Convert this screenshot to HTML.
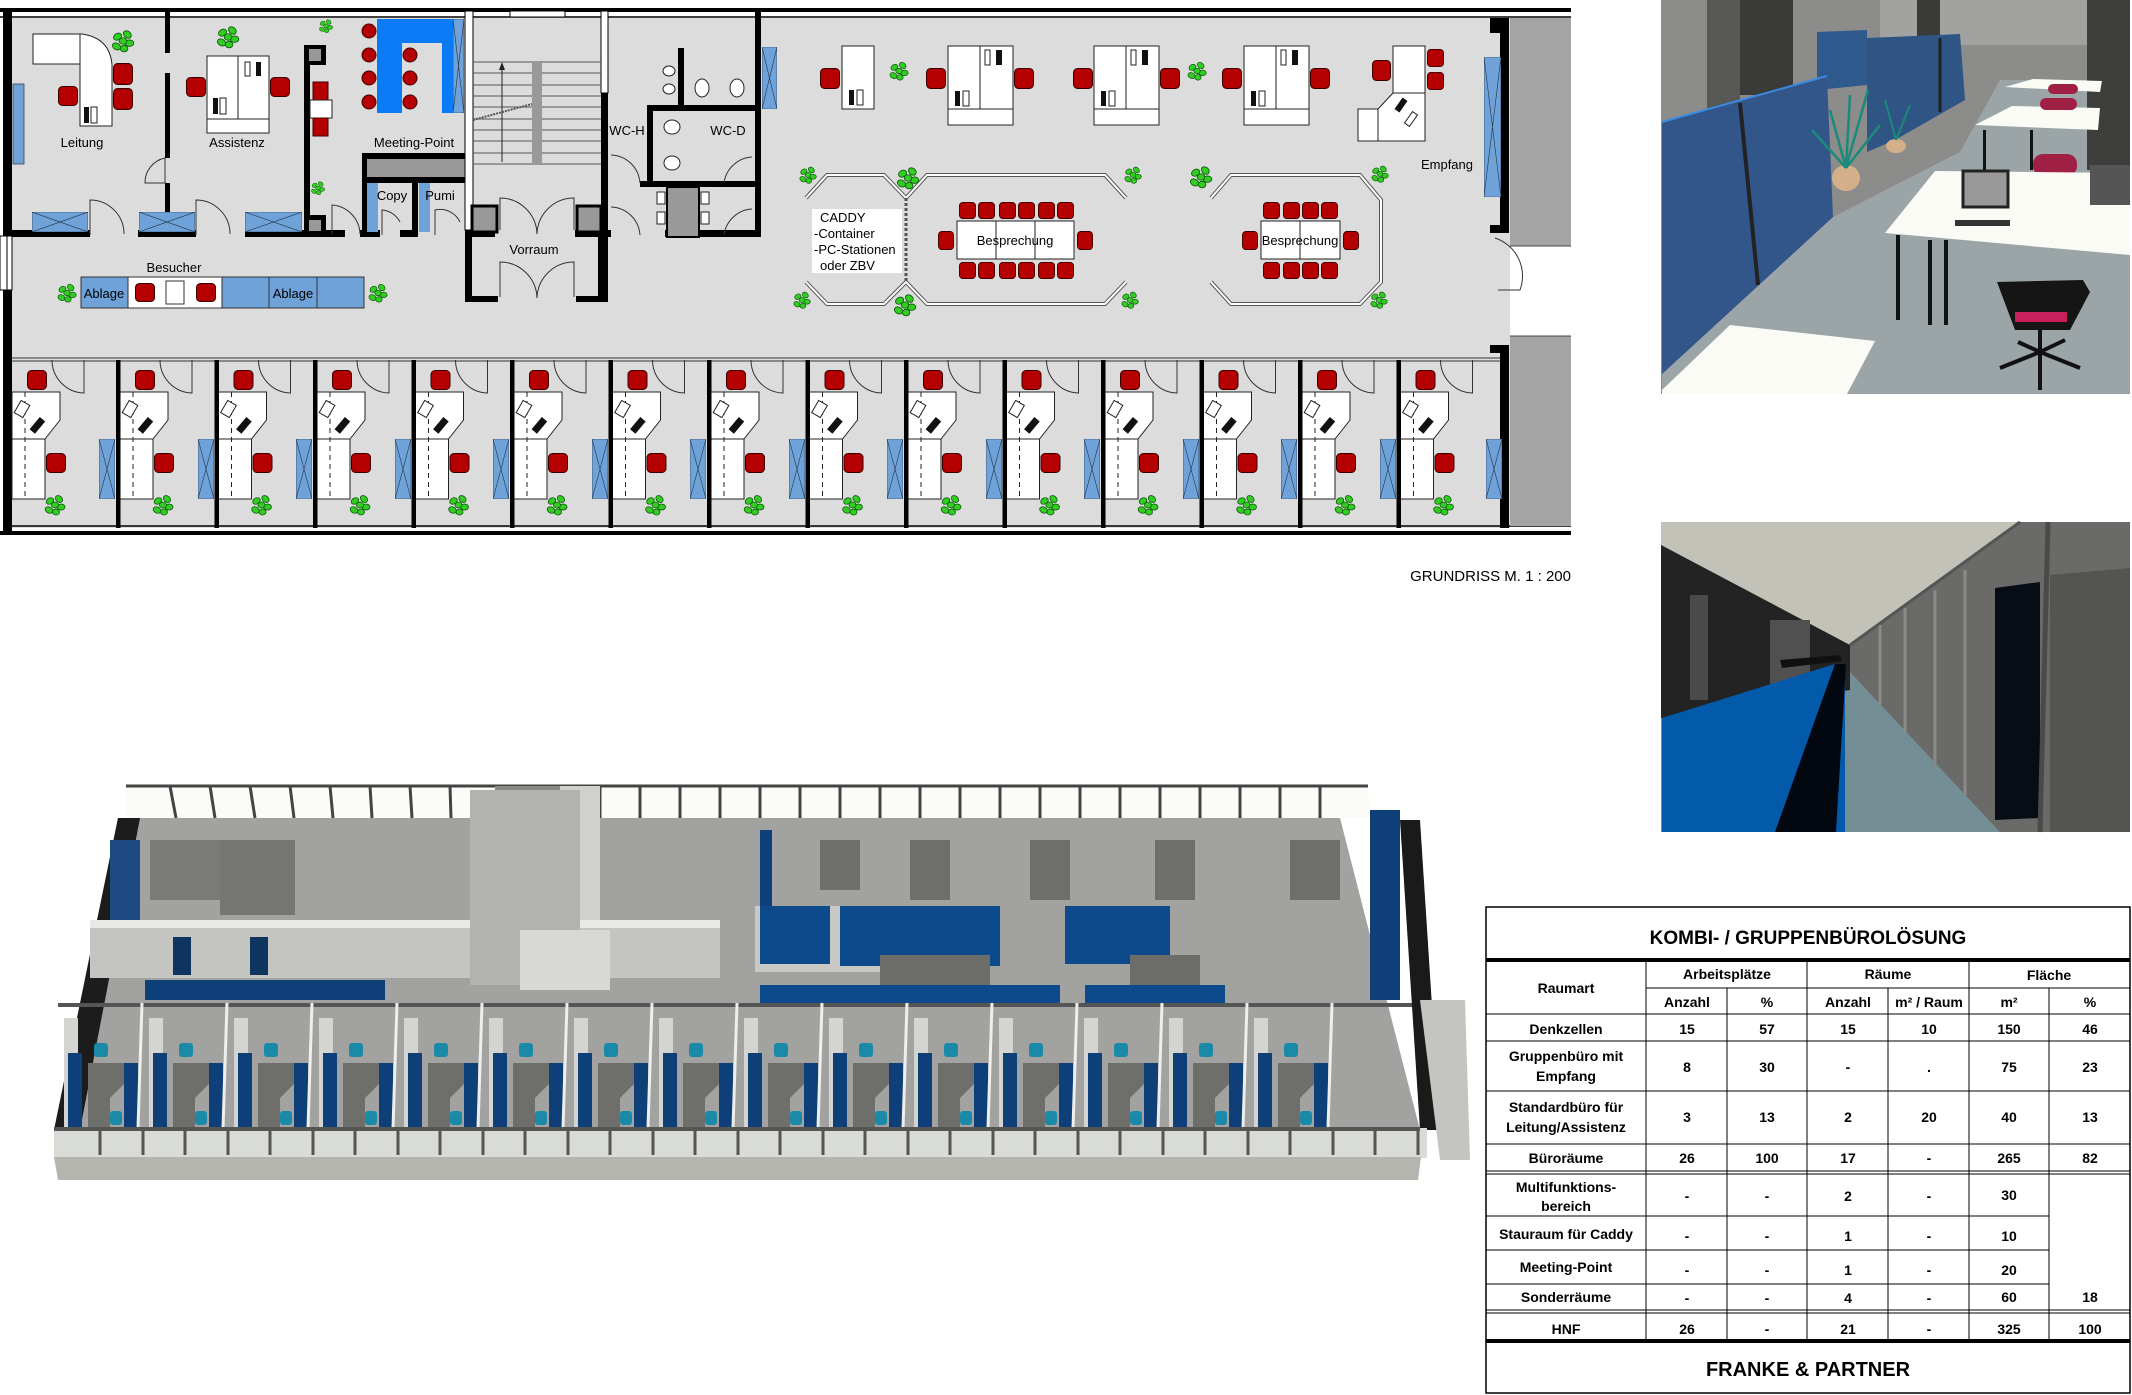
<!DOCTYPE html>
<html><head><meta charset="utf-8">
<style>
html,body{margin:0;padding:0;background:#fff;}
svg{display:block;font-family:"Liberation Sans",Arial,sans-serif;}
</style></head>
<body>
<svg width="2132" height="1395" viewBox="0 0 2132 1395" xmlns="http://www.w3.org/2000/svg">
<defs>
  <symbol id="cab" viewBox="0 0 10 10" preserveAspectRatio="none">
    <rect x="0" y="0" width="10" height="10" fill="#6fa2d8" stroke="#234" stroke-width="0.6" vector-effect="non-scaling-stroke"/>
    <path d="M0 0L10 10M10 0L0 10" stroke="#234" stroke-width="0.6" vector-effect="non-scaling-stroke"/>
  </symbol>
  <symbol id="pl" viewBox="-12 -12 24 24" overflow="visible">
    <g fill="#33cc22" stroke="#0a5a0a" stroke-width="0.8">
      <ellipse cx="-5" cy="-4" rx="4" ry="3" transform="rotate(-30 -5 -4)"/>
      <ellipse cx="4" cy="-6" rx="4" ry="3" transform="rotate(40 4 -6)"/>
      <ellipse cx="6" cy="2" rx="4" ry="3"/>
      <ellipse cx="-6" cy="5" rx="4" ry="3" transform="rotate(30 -6 5)"/>
      <ellipse cx="1" cy="7" rx="3.5" ry="3"/>
      <ellipse cx="0" cy="0" rx="3.5" ry="3"/>
    </g>
  </symbol>
  <symbol id="ch" viewBox="0 0 20 20" preserveAspectRatio="none">
    <rect x="0.5" y="0.5" width="19" height="19" rx="4" fill="#b40000" stroke="#3a0000" stroke-width="1"/>
  </symbol>
  <symbol id="cell" viewBox="0 0 100 200" width="100" height="200" overflow="visible">
    <path d="M40 20 A33 33 0 0 0 72 53 L72 20" fill="none" stroke="#333" stroke-width="1"/>
    <use href="#ch" x="15" y="30" width="20" height="20"/>
    <polygon points="0,52 48,52 48,80 33,99 33,159 0,159" fill="#fff" stroke="#222" stroke-width="1"/>
    <line x1="0" y1="99" x2="33" y2="99" stroke="#222" stroke-width="1"/>
    <line x1="13" y1="52" x2="13" y2="159" stroke="#222" stroke-width="1" stroke-dasharray="5,4"/>
    <rect x="5" y="62" width="10" height="14" fill="#fff" stroke="#222" transform="rotate(30 10 69)"/>
    <rect x="22" y="77" width="7" height="16" fill="#111" transform="rotate(40 25 85)"/>
    <use href="#ch" x="34" y="113" width="20" height="20"/>
    <use href="#pl" x="31" y="153" width="24" height="24"/>
  </symbol>
  <symbol id="c3" viewBox="0 0 90 130" width="90" height="130" overflow="visible">
    <polygon points="6,15 20,15 20,125 6,125" fill="#d4d4d0"/>
    <rect x="10" y="50" width="14" height="75" fill="#0e3f78"/>
    <polygon points="30,60 70,60 72,75 52,95 52,125 30,125" fill="#6e6e6a"/>
    <rect x="36" y="40" width="14" height="14" rx="3" fill="#1b8aa8"/>
    <rect x="52" y="108" width="12" height="14" rx="3" fill="#1b8aa8"/>
    <rect x="66" y="60" width="14" height="65" fill="#0e3f78"/>
    <line x1="84" y1="0" x2="80" y2="125" stroke="#eeeeea" stroke-width="3"/>
  </symbol>
</defs>

<!-- ================= FLOOR PLAN ================= -->
<rect x="12" y="18" width="1498" height="510" fill="#dcdcdc"/>
<rect x="0" y="8" width="1571" height="4" fill="#000"/>
<line x1="0" y1="17" x2="1571" y2="17" stroke="#000" stroke-width="1.5"/>
<line x1="12" y1="526" x2="1571" y2="526" stroke="#000" stroke-width="1.5"/>
<rect x="0" y="531" width="1571" height="4" fill="#000"/>
<rect x="3" y="8" width="9" height="228" fill="#000"/>
<rect x="3" y="290" width="9" height="245" fill="#000"/>
<rect x="0" y="236" width="12" height="54" fill="#fff" stroke="#000" stroke-width="1"/>
<line x1="7" y1="236" x2="7" y2="290" stroke="#000"/>
<rect x="1510" y="18" width="61" height="228" fill="#a4a4a4"/>
<rect x="1510" y="336" width="61" height="190" fill="#a4a4a4"/>
<line x1="1510" y1="246" x2="1571" y2="246" stroke="#444" stroke-width="1"/>
<line x1="1510" y1="336" x2="1571" y2="336" stroke="#444" stroke-width="1"/>
<rect x="1500" y="18" width="9" height="215" fill="#000"/>
<rect x="1500" y="345" width="9" height="183" fill="#000"/>
<rect x="1490" y="18" width="12" height="15" fill="#000"/>
<rect x="1490" y="225" width="19" height="8" fill="#000"/>
<rect x="1490" y="345" width="19" height="8" fill="#000"/>
<path d="M1495 238 A40 40 0 0 1 1520 290 L1498 290" fill="none" stroke="#333"/>
<use href="#cab" x="1484" y="57" width="17" height="140"/>
<text x="1447" y="169" font-size="13" text-anchor="middle">Empfang</text>

<rect x="12" y="230" width="78" height="7" fill="#000"/>
<rect x="138" y="230" width="58" height="7" fill="#000"/>
<rect x="245" y="230" width="100" height="7" fill="#000"/>
<rect x="360" y="230" width="20" height="7" fill="#000"/>
<rect x="400" y="230" width="18" height="7" fill="#000"/>
<rect x="465" y="230" width="30" height="7" fill="#000"/>
<rect x="575" y="230" width="36" height="7" fill="#000"/>
<rect x="665" y="230" width="95" height="7" fill="#000"/>
<path d="M90 235 L90 200 A34 34 0 0 1 124 234" fill="none" stroke="#333"/>
<path d="M196 235 L196 200 A34 34 0 0 1 230 234" fill="none" stroke="#333"/>
<path d="M332 235 L332 205 A30 30 0 0 1 360 234" fill="none" stroke="#333"/>
<path d="M382 235 L382 210 A22 22 0 0 1 400 222" fill="none" stroke="#333"/>
<path d="M435 235 L435 210 A22 22 0 0 1 460 222" fill="none" stroke="#333"/>
<rect x="165" y="11" width="5" height="42" fill="#000"/>
<rect x="165" y="73" width="5" height="85" fill="#000"/>
<path d="M165 158 L165 183 L145 183 A25 25 0 0 1 165 158" fill="none" stroke="#333"/>
<rect x="165" y="183" width="5" height="50" fill="#000"/>
<rect x="13" y="84" width="11" height="80" fill="#6fa2d8" stroke="#345" stroke-width="0.8"/>
<path d="M33 34 L82 34 Q110 38 112 65 L112 126 L80 126 L80 64 L33 64 Z" fill="#fff" stroke="#222"/>
<line x1="80" y1="34" x2="80" y2="64" stroke="#222"/>
<rect x="84" y="107" width="5" height="16" fill="#111"/><rect x="91" y="107" width="6" height="16" fill="#fff" stroke="#222"/>
<use href="#ch" x="113" y="63" width="20" height="22"/>
<use href="#ch" x="113" y="88" width="20" height="22"/>
<use href="#ch" x="58" y="86" width="20" height="20"/>
<use href="#pl" x="110" y="28" width="26" height="26"/>
<text x="82" y="147" font-size="13" text-anchor="middle">Leitung</text>
<use href="#cab" x="32" y="212" width="56" height="20"/>
<rect x="207" y="56" width="62" height="77" fill="#fff" stroke="#222"/>
<line x1="207" y1="119" x2="269" y2="119" stroke="#222"/>
<line x1="238" y1="56" x2="238" y2="119" stroke="#222"/>
<rect x="245" y="62" width="5" height="14" fill="#fff" stroke="#222"/><rect x="256" y="62" width="5" height="14" fill="#111"/>
<rect x="213" y="98" width="5" height="16" fill="#111"/><rect x="220" y="98" width="6" height="16" fill="#fff" stroke="#222"/>
<use href="#ch" x="186" y="77" width="20" height="20"/>
<use href="#ch" x="270" y="77" width="20" height="20"/>
<use href="#pl" x="215" y="24" width="26" height="26"/>
<text x="237" y="147" font-size="13" text-anchor="middle">Assistenz</text>
<use href="#cab" x="139" y="212" width="56" height="20"/>
<use href="#cab" x="245" y="212" width="57" height="20"/>
<rect x="304" y="45" width="6" height="190" fill="#000"/>
<rect x="304" y="45" width="22" height="20" fill="#000"/><rect x="309" y="49" width="12" height="12" fill="#999"/>
<rect x="304" y="215" width="22" height="20" fill="#000"/><rect x="309" y="220" width="12" height="11" fill="#999"/>
<rect x="313" y="82" width="15" height="18" fill="#b40000" stroke="#400"/>
<rect x="310" y="100" width="22" height="18" fill="#fff" stroke="#222"/>
<rect x="313" y="118" width="15" height="18" fill="#b40000" stroke="#400"/>
<use href="#pl" x="318" y="18" width="16" height="16"/>
<use href="#pl" x="310" y="180" width="16" height="16"/>
<path d="M377 19 L453 19 L453 113 L442 113 L442 43 L402 43 L402 113 L377 113 Z" fill="#0a7af5"/>
<use href="#cab" x="453" y="19" width="11" height="94"/>
<circle cx="369" cy="31" r="7" fill="#b40000" stroke="#400"/>
<circle cx="369" cy="55" r="7" fill="#b40000" stroke="#400"/>
<circle cx="369" cy="78" r="7" fill="#b40000" stroke="#400"/>
<circle cx="369" cy="102" r="7" fill="#b40000" stroke="#400"/>
<circle cx="410" cy="55" r="7" fill="#b40000" stroke="#400"/>
<circle cx="410" cy="78" r="7" fill="#b40000" stroke="#400"/>
<circle cx="410" cy="102" r="7" fill="#b40000" stroke="#400"/>
<text x="414" y="147" font-size="13" text-anchor="middle">Meeting-Point</text>
<rect x="362" y="153" width="103" height="6" fill="#000"/>
<rect x="362" y="153" width="5" height="82" fill="#000"/>
<rect x="367" y="159" width="98" height="18" fill="#999"/>
<rect x="362" y="177" width="103" height="6" fill="#000"/>
<rect x="412" y="177" width="6" height="58" fill="#000"/>
<rect x="367" y="183" width="11" height="49" fill="#6fa2d8"/>
<rect x="419" y="183" width="11" height="49" fill="#6fa2d8"/>
<text x="392" y="200" font-size="13" text-anchor="middle">Copy</text>
<text x="440" y="200" font-size="13" text-anchor="middle">Pumi</text>
<rect x="465" y="11" width="8" height="219" fill="#fff" stroke="#000" stroke-width="1"/>
<rect x="601" y="11" width="7" height="82" fill="#fff" stroke="#000" stroke-width="1"/>
<rect x="601" y="93" width="7" height="144" fill="#000"/>
<rect x="510" y="11" width="55" height="6" fill="#fff" stroke="#000"/>
<g stroke="#555" stroke-width="1">
<line x1="473" y1="62" x2="601" y2="62"/><line x1="473" y1="73" x2="601" y2="73"/><line x1="473" y1="85" x2="601" y2="85"/>
<line x1="473" y1="96" x2="601" y2="96"/><line x1="473" y1="107" x2="601" y2="107"/><line x1="473" y1="119" x2="601" y2="119"/>
<line x1="473" y1="130" x2="601" y2="130"/><line x1="473" y1="141" x2="601" y2="141"/><line x1="473" y1="153" x2="601" y2="153"/><line x1="473" y1="164" x2="601" y2="164"/>
</g>
<rect x="532" y="62" width="10" height="102" fill="#999"/>
<line x1="502" y1="162" x2="502" y2="66" stroke="#222"/><polygon points="502,62 499,70 505,70" fill="#222"/>
<line x1="473" y1="120" x2="532" y2="104" stroke="#555" stroke-width="2" stroke-dasharray="2,1"/>
<rect x="465" y="230" width="7" height="72" fill="#000"/>
<rect x="598" y="230" width="10" height="72" fill="#000"/>
<rect x="465" y="296" width="33" height="6" fill="#000"/>
<rect x="576" y="296" width="32" height="6" fill="#000"/>
<rect x="472" y="206" width="25" height="26" fill="#999" stroke="#000" stroke-width="3"/>
<rect x="577" y="206" width="24" height="26" fill="#999" stroke="#000" stroke-width="3"/>
<path d="M500 230 L500 198 A37 37 0 0 1 537 234 M574 230 L574 198 A37 37 0 0 0 537 234" fill="none" stroke="#333"/>
<path d="M500 297 L500 262 A37 37 0 0 1 537 298 M574 297 L574 262 A37 37 0 0 0 537 298" fill="none" stroke="#333"/>
<text x="534" y="254" font-size="13" text-anchor="middle">Vorraum</text>
<rect x="755" y="11" width="6" height="226" fill="#000"/>
<rect x="647" y="105" width="6" height="80" fill="#000"/>
<rect x="647" y="105" width="108" height="6" fill="#000"/>
<rect x="678" y="48" width="6" height="60" fill="#000"/>
<rect x="640" y="181" width="120" height="6" fill="#000"/>
<rect x="667" y="187" width="32" height="50" fill="#999" stroke="#000" stroke-width="2"/>
<ellipse cx="669" cy="71" rx="6" ry="5" fill="#fff" stroke="#222"/><ellipse cx="669" cy="89" rx="6" ry="5" fill="#fff" stroke="#222"/>
<ellipse cx="702" cy="88" rx="7" ry="9" fill="#fff" stroke="#222"/><ellipse cx="737" cy="88" rx="7" ry="9" fill="#fff" stroke="#222"/>
<ellipse cx="672" cy="127" rx="8" ry="7" fill="#fff" stroke="#222"/><ellipse cx="672" cy="163" rx="8" ry="7" fill="#fff" stroke="#222"/>
<rect x="657" y="192" width="8" height="12" fill="#fff" stroke="#222"/><rect x="657" y="212" width="8" height="12" fill="#fff" stroke="#222"/>
<rect x="701" y="192" width="8" height="12" fill="#fff" stroke="#222"/><rect x="701" y="212" width="8" height="12" fill="#fff" stroke="#222"/>
<text x="627" y="135" font-size="13" text-anchor="middle">WC-H</text>
<text x="728" y="135" font-size="13" text-anchor="middle">WC-D</text>
<path d="M611 155 A30 30 0 0 1 640 183 M611 207 A30 30 0 0 1 640 235 M752 157 A30 30 0 0 0 724 183 M752 209 A30 30 0 0 0 724 235" fill="none" stroke="#333"/>
<use href="#cab" x="762" y="47" width="15" height="62"/>

<rect x="842" y="46" width="32" height="63" fill="#fff" stroke="#222"/>
<rect x="849" y="90" width="5" height="15" fill="#111"/><rect x="857" y="90" width="6" height="15" fill="#fff" stroke="#222"/>
<use href="#ch" x="820" y="68" width="20" height="21"/>
<use href="#pl" x="888" y="60" width="22" height="22"/>
<g id="dk">
<rect x="948" y="46" width="65" height="79" fill="#fff" stroke="#222"/>
<line x1="980" y1="46" x2="980" y2="109" stroke="#222"/><line x1="948" y1="109" x2="1013" y2="109" stroke="#222"/>
<rect x="985" y="50" width="5" height="15" fill="#fff" stroke="#222"/><rect x="996" y="50" width="6" height="15" fill="#111"/>
<rect x="955" y="91" width="5" height="15" fill="#111"/><rect x="963" y="91" width="6" height="15" fill="#fff" stroke="#222"/>
</g>
<use href="#ch" x="926" y="68" width="20" height="21"/><use href="#ch" x="1014" y="68" width="20" height="21"/>
<use href="#dk" x="146"/>
<use href="#ch" x="1073" y="68" width="20" height="21"/><use href="#ch" x="1160" y="68" width="20" height="21"/>
<use href="#pl" x="1186" y="60" width="22" height="22"/>
<use href="#dk" x="296"/>
<use href="#ch" x="1222" y="68" width="20" height="21"/><use href="#ch" x="1310" y="68" width="20" height="21"/>
<path d="M1393 46 L1425 46 L1425 141 L1358 141 L1358 109 L1378 109 L1393 93 Z" fill="#fff" stroke="#222"/>
<line x1="1393" y1="93" x2="1425" y2="93" stroke="#222"/><line x1="1378" y1="109" x2="1378" y2="141" stroke="#222"/>
<rect x="1398" y="98" width="6" height="14" fill="#111" transform="rotate(35 1401 105)"/>
<rect x="1408" y="112" width="6" height="14" fill="#fff" stroke="#222" transform="rotate(35 1411 119)"/>
<use href="#ch" x="1372" y="60" width="19" height="21"/>
<use href="#ch" x="1427" y="49" width="17" height="18"/><use href="#ch" x="1427" y="72" width="17" height="18"/>

<g fill="none" stroke="#555" stroke-width="4"><path d="M806 198 L827 175 L884 175 L906 198 L927 175 L1105 175 L1126 198"/>
<path d="M806 282 L827 304 L884 304 L906 282 L927 304 L1105 304 L1126 282"/>
<path d="M1211 198 L1231 175 L1360 175 L1381 200 L1381 282 L1360 304 L1231 304 L1211 282"/></g>
<g fill="none" stroke="#fff" stroke-width="2"><path d="M806 198 L827 175 L884 175 L906 198 L927 175 L1105 175 L1126 198"/>
<path d="M806 282 L827 304 L884 304 L906 282 L927 304 L1105 304 L1126 282"/>
<path d="M1211 198 L1231 175 L1360 175 L1381 200 L1381 282 L1360 304 L1231 304 L1211 282"/></g>
<line x1="906" y1="198" x2="906" y2="282" stroke="#555" stroke-width="3" stroke-dasharray="3,2"/>
<rect x="812" y="209" width="90" height="64" fill="#fff"/>
<text font-size="13"><tspan x="820" y="222">CADDY</tspan><tspan x="814" y="238">-Container</tspan><tspan x="814" y="254">-PC-Stationen</tspan><tspan x="820" y="270">oder ZBV</tspan></text>
<rect x="957" y="221" width="117" height="38" fill="#fff" stroke="#222"/>
<line x1="996" y1="221" x2="996" y2="259" stroke="#222"/><line x1="1035" y1="221" x2="1035" y2="259" stroke="#222"/>
<text x="1015" y="245" font-size="13" text-anchor="middle">Besprechung</text>
<g>
<use href="#ch" x="959" y="202" width="17" height="17"/><use href="#ch" x="978" y="202" width="17" height="17"/><use href="#ch" x="999" y="202" width="17" height="17"/><use href="#ch" x="1018" y="202" width="17" height="17"/><use href="#ch" x="1038" y="202" width="17" height="17"/><use href="#ch" x="1057" y="202" width="17" height="17"/>
<use href="#ch" x="959" y="262" width="17" height="17"/><use href="#ch" x="978" y="262" width="17" height="17"/><use href="#ch" x="999" y="262" width="17" height="17"/><use href="#ch" x="1018" y="262" width="17" height="17"/><use href="#ch" x="1038" y="262" width="17" height="17"/><use href="#ch" x="1057" y="262" width="17" height="17"/>
<use href="#ch" x="938" y="231" width="16" height="19"/><use href="#ch" x="1077" y="231" width="16" height="19"/>
</g>
<rect x="1261" y="221" width="79" height="38" fill="#fff" stroke="#222"/>
<line x1="1300" y1="221" x2="1300" y2="259" stroke="#222"/>
<text x="1300" y="245" font-size="13" text-anchor="middle">Besprechung</text>
<use href="#ch" x="1263" y="202" width="17" height="17"/><use href="#ch" x="1283" y="202" width="17" height="17"/><use href="#ch" x="1302" y="202" width="17" height="17"/><use href="#ch" x="1321" y="202" width="17" height="17"/>
<use href="#ch" x="1263" y="262" width="17" height="17"/><use href="#ch" x="1283" y="262" width="17" height="17"/><use href="#ch" x="1302" y="262" width="17" height="17"/><use href="#ch" x="1321" y="262" width="17" height="17"/>
<use href="#ch" x="1242" y="231" width="16" height="19"/><use href="#ch" x="1343" y="231" width="16" height="19"/>
<use href="#pl" x="798" y="165" width="20" height="20"/><use href="#pl" x="895" y="165" width="26" height="26"/><use href="#pl" x="1123" y="165" width="20" height="20"/>
<use href="#pl" x="1188" y="164" width="26" height="26"/><use href="#pl" x="1370" y="164" width="20" height="20"/>
<use href="#pl" x="792" y="290" width="20" height="20"/><use href="#pl" x="892" y="292" width="26" height="26"/><use href="#pl" x="1120" y="290" width="20" height="20"/><use href="#pl" x="1369" y="290" width="20" height="20"/>

<text x="174" y="272" font-size="13" text-anchor="middle">Besucher</text>
<rect x="81" y="277" width="283" height="31" fill="#fff" stroke="#333"/>
<rect x="81" y="277" width="47" height="31" fill="#6fa2d8" stroke="#333"/>
<rect x="222" y="277" width="142" height="31" fill="#6fa2d8" stroke="#333"/>
<line x1="269" y1="277" x2="269" y2="308" stroke="#333"/><line x1="317" y1="277" x2="317" y2="308" stroke="#333"/>
<use href="#ch" x="135" y="283" width="20" height="19"/><use href="#ch" x="196" y="283" width="20" height="19"/>
<rect x="166" y="281" width="18" height="23" fill="#fff" stroke="#333"/>
<text x="104" y="298" font-size="13" text-anchor="middle">Ablage</text>
<text x="293" y="298" font-size="13" text-anchor="middle">Ablage</text>
<use href="#pl" x="56" y="282" width="22" height="22"/><use href="#pl" x="367" y="282" width="22" height="22"/>

<line x1="12" y1="358" x2="1500" y2="358" stroke="#333" stroke-width="1"/>
<line x1="12" y1="361" x2="1500" y2="361" stroke="#333" stroke-width="1"/>
<use href="#cell" x="12" y="340"/>
<use href="#cell" x="120" y="340"/><use href="#cell" x="218.5" y="340"/><use href="#cell" x="317" y="340"/><use href="#cell" x="415.5" y="340"/>
<use href="#cell" x="514" y="340"/><use href="#cell" x="612.5" y="340"/><use href="#cell" x="711" y="340"/><use href="#cell" x="809.5" y="340"/>
<use href="#cell" x="908" y="340"/><use href="#cell" x="1006.5" y="340"/><use href="#cell" x="1105" y="340"/><use href="#cell" x="1203.5" y="340"/>
<use href="#cell" x="1302" y="340"/><use href="#cell" x="1400.5" y="340"/>
<g fill="#000">
<rect x="116" y="360" width="4.5" height="168"/><rect x="214.5" y="360" width="4.5" height="168"/><rect x="313" y="360" width="4.5" height="168"/><rect x="411.5" y="360" width="4.5" height="168"/>
<rect x="510" y="360" width="4.5" height="168"/><rect x="608.5" y="360" width="4.5" height="168"/><rect x="707" y="360" width="4.5" height="168"/><rect x="805.5" y="360" width="4.5" height="168"/>
<rect x="904" y="360" width="4.5" height="168"/><rect x="1002.5" y="360" width="4.5" height="168"/><rect x="1101" y="360" width="4.5" height="168"/><rect x="1199.5" y="360" width="4.5" height="168"/>
<rect x="1298" y="360" width="4.5" height="168"/><rect x="1396.5" y="360" width="4.5" height="168"/>
</g>
<g>
<use href="#cab" x="99" y="439" width="16" height="60"/><use href="#cab" x="198" y="439" width="16" height="60"/><use href="#cab" x="296" y="439" width="16" height="60"/><use href="#cab" x="395" y="439" width="16" height="60"/>
<use href="#cab" x="493" y="439" width="16" height="60"/><use href="#cab" x="592" y="439" width="16" height="60"/><use href="#cab" x="690" y="439" width="16" height="60"/><use href="#cab" x="789" y="439" width="16" height="60"/>
<use href="#cab" x="887" y="439" width="16" height="60"/><use href="#cab" x="986" y="439" width="16" height="60"/><use href="#cab" x="1084" y="439" width="16" height="60"/><use href="#cab" x="1183" y="439" width="16" height="60"/>
<use href="#cab" x="1281" y="439" width="16" height="60"/><use href="#cab" x="1380" y="439" width="16" height="60"/><use href="#cab" x="1486" y="439" width="16" height="60"/>
</g>
<text x="1571" y="581" font-size="15" text-anchor="end">GRUNDRISS M. 1 : 200</text>

<!-- ================= PHOTO 1 ================= -->
<rect x="1661" y="0" width="469" height="394" fill="#8c8c8a"/>
<rect x="1880" y="0" width="210" height="45" fill="#a2a2a0"/>
<rect x="1707" y="0" width="33" height="110" fill="#585856"/>
<rect x="1740" y="0" width="53" height="95" fill="#3a3a38"/>
<rect x="1917" y="0" width="23" height="60" fill="#3a3a38"/>
<rect x="2087" y="0" width="43" height="170" fill="#3e3e3c"/>
<polygon points="1662,374 1833,217 1960,152 2000,80 2087,80 2087,170 2130,170 2130,394 1662,394" fill="#9ba5a8"/>
<polygon points="1817,32 1867,30 1867,85 1817,90" fill="#2e5a8e"/>
<polygon points="1867,38 1960,34 1965,100 1895,140 1867,152" fill="#2f5585"/>
<line x1="1940" y1="38" x2="1940" y2="112" stroke="#222" stroke-width="3"/>
<polygon points="1662,122 1827,76 1833,217 1662,374" fill="#33568a"/>
<line x1="1662" y1="122" x2="1827" y2="76" stroke="#3a8ae0" stroke-width="2"/>
<line x1="1740" y1="103" x2="1758" y2="285" stroke="#222" stroke-width="4"/>
<ellipse cx="1846" cy="178" rx="14" ry="13" fill="#d4b08a"/>
<ellipse cx="1896" cy="146" rx="10" ry="7" fill="#d4b08a"/>
<path d="M1846 168 L1830 110 M1846 168 L1868 90 M1846 168 L1812 130 M1846 168 L1880 125 M1846 168 L1850 95" stroke="#1a8a7a" stroke-width="2.5"/>
<path d="M1896 140 L1885 100 M1896 140 L1910 105" stroke="#1a8a7a" stroke-width="2"/>
<polygon points="1662,390 1730,325 1875,341 1847,394 1662,394" fill="#fbfbf6"/>
<polygon points="2005,87 2033,79 2102,81 2100,92" fill="#fbfbf6"/>
<polygon points="1975,125 2012,106 2100,108 2098,130" fill="#fbfbf6"/>
<rect x="1983" y="130" width="3" height="40" fill="#111"/><rect x="2030" y="130" width="3" height="40" fill="#111"/>
<rect x="2033" y="154" width="44" height="22" rx="10" fill="#a02045"/>
<rect x="2040" y="98" width="37" height="12" rx="6" fill="#a02045"/>
<rect x="2048" y="84" width="30" height="10" rx="5" fill="#a02045"/>
<polygon points="1885,233 1935,171 2130,173 2130,255" fill="#fbfbf6"/>
<rect x="1896" y="235" width="4" height="85" fill="#111"/><rect x="1928" y="240" width="4" height="85" fill="#111"/><rect x="1944" y="240" width="4" height="85" fill="#111"/>
<rect x="1963" y="171" width="45" height="36" fill="#999" stroke="#222" stroke-width="3"/>
<rect x="1955" y="220" width="55" height="6" fill="#333"/>
<rect x="2090" y="165" width="40" height="40" fill="#555"/>
<path d="M1997 282 L2083 280 L2090 292 L2070 330 L2015 330 Z" fill="#151515"/>
<rect x="2015" y="312" width="52" height="10" fill="#c8205a"/>
<path d="M2040 330 L2040 390 M2040 352 L2000 368 M2040 352 L2080 368 M2040 352 L2065 340 M2040 352 L2018 342" stroke="#111" stroke-width="4"/>

<!-- ================= PHOTO 2 ================= -->
<rect x="1661" y="522" width="469" height="310" fill="#748e96"/>
<polygon points="1661,522 2130,522 2130,568 2050,575 1850,650 1661,545" fill="#c2c2b8"/>
<polygon points="1661,545 1850,645 1850,690 1661,718" fill="#232323"/>
<rect x="1690" y="595" width="18" height="105" fill="#4a4a48"/>
<rect x="1770" y="620" width="40" height="70" fill="#505050"/>
<polygon points="1850,645 2020,522 2130,522 2130,832 2000,832 1850,672" fill="#6a6a68"/>
<polygon points="2050,575 2130,568 2130,832 2050,832" fill="#545452"/>
<polygon points="1995,588 2040,582 2040,818 1995,820" fill="#080c14"/>
<g stroke="#8a8a88" stroke-width="3">
<line x1="1880" y1="625" x2="1880" y2="705"/><line x1="1905" y1="608" x2="1905" y2="732"/><line x1="1935" y1="590" x2="1935" y2="765"/><line x1="1965" y1="570" x2="1965" y2="795"/>
</g>
<line x1="2020" y1="522" x2="1850" y2="645" stroke="#555" stroke-width="3"/>
<line x1="2048" y1="522" x2="2040" y2="832" stroke="#4a4a48" stroke-width="5"/>
<polygon points="1662,718 1835,664 1845,664 1845,832 1662,832" fill="#035aaa"/>
<polygon points="1835,664 1846,664 1836,832 1775,832" fill="#030810"/>
<polygon points="1780,660 1840,655 1842,661 1782,668" fill="#111"/>

<!-- ================= 3D VIEW ================= -->
<polygon points="126,785 1368,785 1370,818 126,818" fill="#fbfbf8"/>
<g stroke="#444" stroke-width="3">
<line x1="126" y1="786" x2="1368" y2="786"/>
<line x1="170" y1="786" x2="176" y2="818"/><line x1="210" y1="786" x2="215" y2="818"/><line x1="250" y1="786" x2="255" y2="818"/><line x1="290" y1="786" x2="294" y2="818"/>
<line x1="330" y1="786" x2="333" y2="818"/><line x1="370" y1="786" x2="372" y2="818"/><line x1="410" y1="786" x2="412" y2="818"/><line x1="450" y1="786" x2="451" y2="818"/>
<line x1="600" y1="786" x2="600" y2="818"/><line x1="640" y1="786" x2="640" y2="818"/><line x1="680" y1="786" x2="680" y2="818"/><line x1="720" y1="786" x2="720" y2="818"/>
<line x1="760" y1="786" x2="760" y2="818"/><line x1="800" y1="786" x2="800" y2="818"/><line x1="840" y1="786" x2="840" y2="818"/><line x1="880" y1="786" x2="880" y2="818"/>
<line x1="920" y1="786" x2="920" y2="818"/><line x1="960" y1="786" x2="960" y2="818"/><line x1="1000" y1="786" x2="1000" y2="818"/><line x1="1040" y1="786" x2="1040" y2="818"/>
<line x1="1080" y1="786" x2="1080" y2="818"/><line x1="1120" y1="786" x2="1120" y2="818"/><line x1="1160" y1="786" x2="1160" y2="818"/><line x1="1200" y1="786" x2="1200" y2="818"/>
<line x1="1240" y1="786" x2="1240" y2="818"/><line x1="1280" y1="786" x2="1280" y2="818"/><line x1="1320" y1="786" x2="1320" y2="818"/>
</g>
<polygon points="118,818 1340,818 1420,1130 54,1130" fill="#a2a2a0"/>
<polygon points="118,818 140,818 80,1130 54,1130" fill="#1c1c1c"/>
<polygon points="560,786 600,786 600,935 560,935" fill="#d0d0cc"/>
<polygon points="495,786 560,786 560,935 495,935" fill="#8a8a88"/>
<polygon points="110,840 140,840 140,925 110,925" fill="#1e4a84"/>
<rect x="150" y="840" width="90" height="60" fill="#7a7a78"/>
<rect x="220" y="840" width="75" height="75" fill="#767674"/>
<rect x="90" y="920" width="630" height="8" fill="#e8e8e4"/>
<polygon points="90,928 720,928 720,978 90,978" fill="#c4c4c0"/>
<rect x="173" y="937" width="18" height="38" fill="#0e3560"/><rect x="250" y="937" width="18" height="38" fill="#0e3560"/>
<rect x="470" y="790" width="110" height="195" fill="#b2b2ae"/>
<rect x="520" y="930" width="90" height="60" fill="#d8d8d4"/>
<rect x="145" y="980" width="240" height="20" fill="#0e3f78"/>
<rect x="760" y="830" width="12" height="120" fill="#0e3f78"/>
<polygon points="755,906 880,906 880,972 755,972" fill="#c8c8c4"/>
<rect x="760" y="906" width="70" height="58" fill="#0c4a8c"/>
<rect x="840" y="906" width="160" height="60" fill="#0c4a8c"/>
<rect x="1065" y="906" width="105" height="58" fill="#0c4a8c"/>
<rect x="880" y="955" width="110" height="40" fill="#6c6c68"/>
<rect x="1130" y="955" width="70" height="40" fill="#6c6c68"/>
<rect x="760" y="985" width="300" height="22" fill="#0c4a8c"/>
<rect x="1085" y="985" width="140" height="22" fill="#0c4a8c"/>
<rect x="1370" y="810" width="30" height="190" fill="#0e3f78"/>
<rect x="1290" y="840" width="50" height="60" fill="#6e6e6a"/>
<rect x="820" y="840" width="40" height="50" fill="#6e6e6a"/><rect x="910" y="840" width="40" height="60" fill="#6e6e6a"/><rect x="1030" y="840" width="40" height="60" fill="#6e6e6a"/><rect x="1155" y="840" width="40" height="60" fill="#6e6e6a"/>
<line x1="58" y1="1005" x2="1421" y2="1005" stroke="#555" stroke-width="4"/>
<g>
<use href="#c3" x="58" y="1003"/><use href="#c3" x="143" y="1003"/><use href="#c3" x="228" y="1003"/><use href="#c3" x="313" y="1003"/>
<use href="#c3" x="398" y="1003"/><use href="#c3" x="483" y="1003"/><use href="#c3" x="568" y="1003"/><use href="#c3" x="653" y="1003"/>
<use href="#c3" x="738" y="1003"/><use href="#c3" x="823" y="1003"/><use href="#c3" x="908" y="1003"/><use href="#c3" x="993" y="1003"/>
<use href="#c3" x="1078" y="1003"/><use href="#c3" x="1163" y="1003"/><use href="#c3" x="1248" y="1003"/>
</g>
<polygon points="1400,820 1420,820 1440,1130 1420,1130" fill="#1a1a1a"/>
<polygon points="1420,1000 1465,1000 1470,1160 1440,1160" fill="#c4c4c0"/>
<rect x="54" y="1128" width="1373" height="30" fill="#d9dbd6"/>
<line x1="54" y1="1129" x2="1420" y2="1129" stroke="#555" stroke-width="4"/>
<g stroke="#555" stroke-width="3">
<line x1="100" y1="1129" x2="100" y2="1155"/><line x1="143" y1="1129" x2="143" y2="1155"/><line x1="185" y1="1129" x2="185" y2="1155"/><line x1="228" y1="1129" x2="228" y2="1155"/>
<line x1="270" y1="1129" x2="270" y2="1155"/><line x1="313" y1="1129" x2="313" y2="1155"/><line x1="355" y1="1129" x2="355" y2="1155"/><line x1="398" y1="1129" x2="398" y2="1155"/>
<line x1="440" y1="1129" x2="440" y2="1155"/><line x1="483" y1="1129" x2="483" y2="1155"/><line x1="525" y1="1129" x2="525" y2="1155"/><line x1="568" y1="1129" x2="568" y2="1155"/>
<line x1="610" y1="1129" x2="610" y2="1155"/><line x1="653" y1="1129" x2="653" y2="1155"/><line x1="695" y1="1129" x2="695" y2="1155"/><line x1="738" y1="1129" x2="738" y2="1155"/>
<line x1="780" y1="1129" x2="780" y2="1155"/><line x1="823" y1="1129" x2="823" y2="1155"/><line x1="865" y1="1129" x2="865" y2="1155"/><line x1="908" y1="1129" x2="908" y2="1155"/>
<line x1="950" y1="1129" x2="950" y2="1155"/><line x1="993" y1="1129" x2="993" y2="1155"/><line x1="1035" y1="1129" x2="1035" y2="1155"/><line x1="1078" y1="1129" x2="1078" y2="1155"/>
<line x1="1120" y1="1129" x2="1120" y2="1155"/><line x1="1163" y1="1129" x2="1163" y2="1155"/><line x1="1205" y1="1129" x2="1205" y2="1155"/><line x1="1248" y1="1129" x2="1248" y2="1155"/>
<line x1="1290" y1="1129" x2="1290" y2="1155"/><line x1="1333" y1="1129" x2="1333" y2="1155"/><line x1="1375" y1="1129" x2="1375" y2="1155"/><line x1="1418" y1="1129" x2="1418" y2="1155"/>
</g>
<polygon points="54,1157 1421,1157 1418,1180 58,1180" fill="#b5b5b0"/>

<!-- ================= TABLE ================= -->
<g font-weight="bold" font-size="14" text-anchor="middle">
<rect x="1486" y="907" width="644" height="486" fill="#fff" stroke="#000" stroke-width="1.5"/>
<line x1="1486" y1="960" x2="2130" y2="960" stroke="#000" stroke-width="4"/>
<line x1="1486" y1="1341" x2="2130" y2="1341" stroke="#000" stroke-width="4"/>
<g stroke="#000" stroke-width="1">
<line x1="1646" y1="988" x2="2130" y2="988"/>
<line x1="1486" y1="1014" x2="2130" y2="1014"/>
<line x1="1486" y1="1041" x2="2130" y2="1041"/>
<line x1="1486" y1="1091" x2="2130" y2="1091"/>
<line x1="1486" y1="1144" x2="2130" y2="1144"/>
<line x1="1486" y1="1171" x2="2130" y2="1171"/><line x1="1486" y1="1174" x2="2130" y2="1174"/>
<line x1="1486" y1="1216" x2="2049" y2="1216"/>
<line x1="1486" y1="1250" x2="2049" y2="1250"/>
<line x1="1486" y1="1284" x2="2049" y2="1284"/>
<line x1="1486" y1="1310" x2="2130" y2="1310"/><line x1="1486" y1="1313" x2="2130" y2="1313"/>
<line x1="1646" y1="960" x2="1646" y2="1341"/>
<line x1="1807" y1="960" x2="1807" y2="1341"/>
<line x1="1969" y1="960" x2="1969" y2="1341"/>
<line x1="1727" y1="988" x2="1727" y2="1341"/>
<line x1="1888" y1="988" x2="1888" y2="1341"/>
<line x1="2049" y1="988" x2="2049" y2="1341"/>
</g>
<text x="1808" y="944" font-size="19">KOMBI- / GRUPPENBÜROLÖSUNG</text>
<text x="1808" y="1376" font-size="20">FRANKE &amp; PARTNER</text>
<text x="1566" y="993">Raumart</text>
<text x="1727" y="979">Arbeitsplätze</text><text x="1888" y="979">Räume</text><text x="2049" y="980">Fläche</text>
<text x="1687" y="1007">Anzahl</text><text x="1767" y="1007">%</text><text x="1848" y="1007">Anzahl</text><text x="1929" y="1007">m² / Raum</text><text x="2009" y="1007">m²</text><text x="2090" y="1007">%</text>
<text x="1566" y="1034">Denkzellen</text><text x="1687" y="1034">15</text><text x="1767" y="1034">57</text><text x="1848" y="1034">15</text><text x="1929" y="1034">10</text><text x="2009" y="1034">150</text><text x="2090" y="1034">46</text>
<text x="1566" y="1061">Gruppenbüro mit</text><text x="1566" y="1081">Empfang</text>
<text x="1687" y="1072">8</text><text x="1767" y="1072">30</text><text x="1848" y="1072">-</text><text x="1929" y="1072">.</text><text x="2009" y="1072">75</text><text x="2090" y="1072">23</text>
<text x="1566" y="1112">Standardbüro für</text><text x="1566" y="1132">Leitung/Assistenz</text>
<text x="1687" y="1122">3</text><text x="1767" y="1122">13</text><text x="1848" y="1122">2</text><text x="1929" y="1122">20</text><text x="2009" y="1122">40</text><text x="2090" y="1122">13</text>
<text x="1566" y="1163">Büroräume</text><text x="1687" y="1163">26</text><text x="1767" y="1163">100</text><text x="1848" y="1163">17</text><text x="1929" y="1163">-</text><text x="2009" y="1163">265</text><text x="2090" y="1163">82</text>
<text x="1566" y="1192">Multifunktions-</text><text x="1566" y="1211">bereich</text>
<text x="1687" y="1201">-</text><text x="1767" y="1201">-</text><text x="1848" y="1201">2</text><text x="1929" y="1201">-</text><text x="2009" y="1200">30</text>
<text x="1566" y="1239">Stauraum für Caddy</text><text x="1687" y="1241">-</text><text x="1767" y="1241">-</text><text x="1848" y="1241">1</text><text x="1929" y="1241">-</text><text x="2009" y="1241">10</text>
<text x="1566" y="1272">Meeting-Point</text><text x="1687" y="1275">-</text><text x="1767" y="1275">-</text><text x="1848" y="1275">1</text><text x="1929" y="1275">-</text><text x="2009" y="1275">20</text>
<text x="1566" y="1302">Sonderräume</text><text x="1687" y="1303">-</text><text x="1767" y="1303">-</text><text x="1848" y="1303">4</text><text x="1929" y="1303">-</text><text x="2009" y="1302">60</text><text x="2090" y="1302">18</text>
<text x="1566" y="1334">HNF</text><text x="1687" y="1334">26</text><text x="1767" y="1334">-</text><text x="1848" y="1334">21</text><text x="1929" y="1334">-</text><text x="2009" y="1334">325</text><text x="2090" y="1334">100</text>
</g>
</svg>
</body></html>
